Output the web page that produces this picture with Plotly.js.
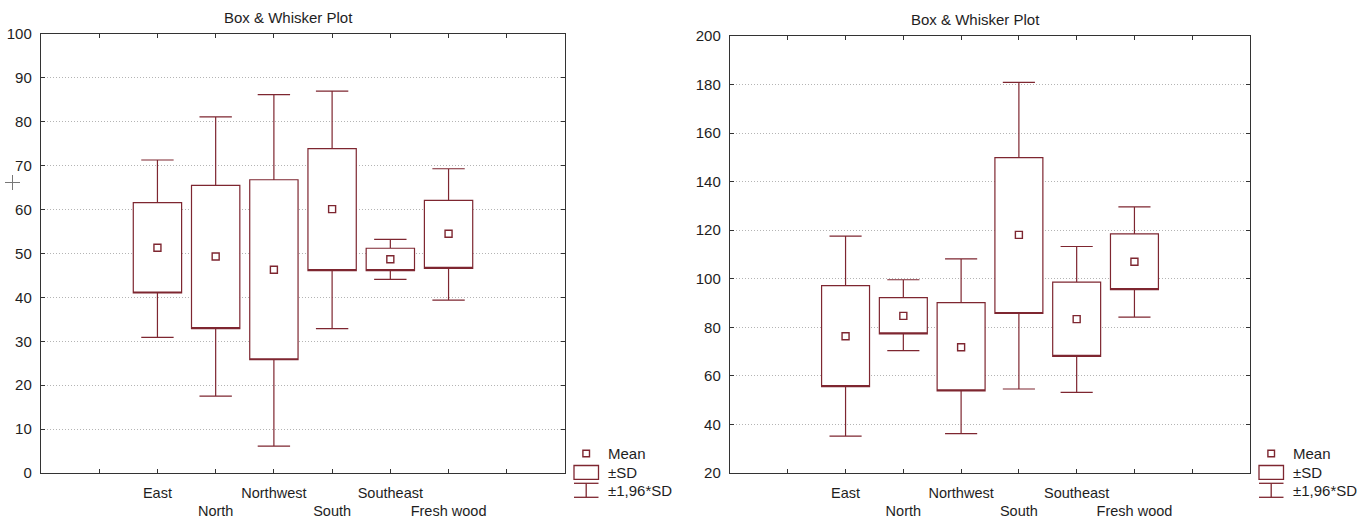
<!DOCTYPE html>
<html><head><meta charset="utf-8">
<script src="https://cdn.plot.ly/plotly-3.0.1.min.js"></script>
<style>html,body{margin:0;padding:0;background:#fff}#chart{width:1368px;height:518px}</style>
</head><body><div id="chart"></div>
<script>
// ---- data ----
const categories = ['East', 'North', 'Northwest', 'South', 'Southeast', 'Fresh wood'];
const positions = [2, 3, 4, 5, 6, 7];
const tickPositions = [1, 2, 3, 4, 5, 6, 7, 8];
const tickLabels = ['', 'East', '<br>North', 'Northwest', '<br>South', 'Southeast', '<br>Fresh wood', ''];

// left panel
const leftMean   = [51.3, 49.3, 46.3, 60.1, 48.7, 54.5];
const leftSdLow  = [41.0, 32.9, 25.8, 46.1, 46.1, 46.6];
const leftSdHigh = [61.6, 65.5, 66.8, 73.9, 51.2, 62.1];
const leftCiLow  = [30.9, 17.5, 6.1, 32.9, 44.1, 39.4];
const leftCiHigh = [71.3, 81.1, 86.2, 87.0, 53.2, 69.3];

// right panel
const rightMean   = [76.3, 84.7, 71.8, 118.1, 83.4, 107.0];
const rightSdLow  = [55.6, 77.3, 53.8, 85.7, 68.0, 95.5];
const rightSdHigh = [97.2, 92.2, 90.2, 149.9, 98.6, 118.5];
const rightCiLow  = [35.2, 70.4, 36.2, 54.6, 53.2, 84.2];
const rightCiHigh = [117.6, 99.6, 108.2, 180.9, 113.3, 129.6];

const legendLabels = ['Mean', '\u00b1SD', '\u00b11,96*SD'];
const titleText = 'Box & Whisker Plot';

// ---- style ----
const W = 1368, H = 518;
const RED = '#7e2630';
const FONT = 'Liberation Sans, Arial, sans-serif';
const TXT = '#1e1e1e';
const px = v => v / W;
const py = v => 1 - v / H;

function boxTrace(lo, hi, cLo, cHi, xa, ya) {
  return {
    type: 'box', x: positions, q1: lo, median: lo, q3: hi,
    lowerfence: cLo, upperfence: cHi, boxpoints: false,
    width: 0.83, whiskerwidth: 0.67,
    fillcolor: 'rgba(255,255,255,1)', line: {color: RED, width: 1.2},
    xaxis: xa, yaxis: ya, hoverinfo: 'skip', showlegend: false
  };
}
function meanTrace(m, xa, ya) {
  return {
    type: 'scatter', mode: 'markers', x: positions, y: m,
    marker: {symbol: 'square-open', size: 7, color: RED, line: {width: 1.4, color: RED}},
    xaxis: xa, yaxis: ya, hoverinfo: 'skip', showlegend: false
  };
}

const data = [
  boxTrace(leftSdLow, leftSdHigh, leftCiLow, leftCiHigh, 'x', 'y'),
  meanTrace(leftMean, 'x', 'y'),
  boxTrace(rightSdLow, rightSdHigh, rightCiLow, rightCiHigh, 'x2', 'y2'),
  meanTrace(rightMean, 'x2', 'y2')
];

function xAxis(dom, anchor) {
  return {
    domain: dom, range: [0, 9], anchor: anchor,
    tickmode: 'array', tickvals: tickPositions, ticktext: tickLabels,
    tickangle: 0, automargin: false,
    ticks: 'inside', ticklen: 4, tickcolor: '#333', tickwidth: 1,
    showline: true, linecolor: '#333', linewidth: 1.2, mirror: 'ticks',
    showgrid: false, zeroline: false, fixedrange: true,
    ticklabelstandoff: 6,
    tickfont: {family: FONT, size: 14.5, color: TXT}
  };
}
function yAxis(dom, range, dtick, anchor) {
  return {
    domain: dom, range: range, anchor: anchor, tick0: range[0], dtick: dtick,
    automargin: false,
    ticks: 'inside', ticklen: 4, tickcolor: '#333', tickwidth: 1,
    showline: true, linecolor: '#333', linewidth: 1.2, mirror: 'ticks',
    showgrid: true, gridcolor: '#b4b4b4', gridwidth: 1, griddash: '1px,2px',
    zeroline: false, fixedrange: true, ticklabelstandoff: 5,
    tickfont: {family: FONT, size: 15, color: TXT}
  };
}

const shapes = [];
const annotations = [];

function legend(x0) {
  const xc = x0 + 12.2, x1 = x0 + 24.5;
  shapes.push({type: 'rect', xref: 'paper', yref: 'paper',
    x0: px(xc - 3.3), x1: px(xc + 3.3), y0: py(450.2), y1: py(456.8),
    line: {color: RED, width: 1.4}, fillcolor: 'rgba(0,0,0,0)'});
  shapes.push({type: 'rect', xref: 'paper', yref: 'paper',
    x0: px(x0), x1: px(x1), y0: py(465.5), y1: py(479.3),
    line: {color: RED, width: 1.3}, fillcolor: 'rgba(0,0,0,0)'});
  [[x0, 483.3, x1, 483.3], [x0, 497.3, x1, 497.3], [xc, 483.3, xc, 497.3]].forEach(s => {
    shapes.push({type: 'line', xref: 'paper', yref: 'paper',
      x0: px(s[0]), y0: py(s[1]), x1: px(s[2]), y1: py(s[3]),
      line: {color: RED, width: 1.3}});
  });
  const ys = [453.3, 472.5, 490.5];
  legendLabels.forEach((t, i) => {
    annotations.push({xref: 'paper', yref: 'paper', x: px(x0 + 31.5), y: py(ys[i]),
      xanchor: 'left', yanchor: 'middle', text: t, showarrow: false,
      font: {family: FONT, size: 15, color: TXT}});
  });
}
legend(574);
legend(1259);

annotations.push({xref: 'paper', yref: 'paper', x: px(288.5), y: py(17.5), xanchor: 'center', yanchor: 'middle',
  text: titleText, showarrow: false, font: {family: FONT, size: 15, color: TXT}});
annotations.push({xref: 'paper', yref: 'paper', x: px(975), y: py(19), xanchor: 'center', yanchor: 'middle',
  text: titleText, showarrow: false, font: {family: FONT, size: 15, color: TXT}});

shapes.push({type: 'line', xref: 'paper', yref: 'paper', x0: px(5), x1: px(20), y0: py(182.5), y1: py(182.5),
  line: {color: '#777', width: 1}});
shapes.push({type: 'line', xref: 'paper', yref: 'paper', x0: px(12.5), x1: px(12.5), y0: py(175), y1: py(190),
  line: {color: '#777', width: 1}});

const layout = {
  width: W, height: H,
  margin: {l: 0, r: 0, t: 0, b: 0, pad: 0},
  paper_bgcolor: '#fff', plot_bgcolor: '#fff',
  showlegend: false,
  xaxis: xAxis([px(41), px(565)], 'y'),
  yaxis: yAxis([py(473), py(34)], [0, 100], 10, 'x'),
  xaxis2: xAxis([px(730), px(1250)], 'y2'),
  yaxis2: yAxis([py(473), py(36)], [20, 200], 20, 'x2'),
  shapes: shapes,
  annotations: annotations,
  font: {family: FONT, color: TXT}
};

Plotly.newPlot('chart', data, layout, {staticPlot: true, displayModeBar: false});
</script>
</body></html>
